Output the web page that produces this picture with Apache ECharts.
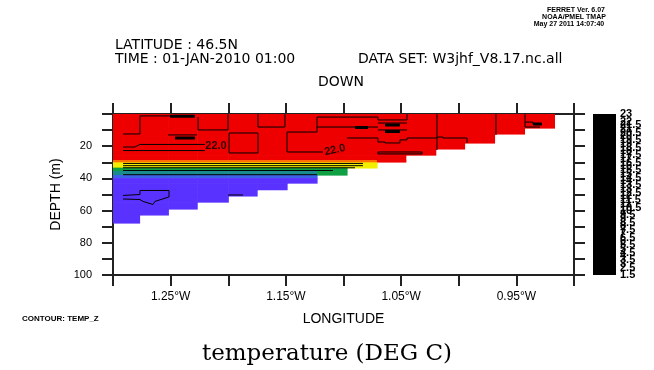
<!DOCTYPE html>
<html>
<head>
<meta charset="utf-8">
<script src="https://cdn.jsdelivr.net/npm/echarts@6/dist/echarts.min.js"></script>
<style>
html,body{margin:0;padding:0;background:#fff;}
#chart{width:654px;height:370px;}
</style>
</head>
<body>
<div id="chart"></div>
<script>
// ---- data ----
// cell edges (longitude, degrees east; negative = W)
const lonEdges = [-1.300, -1.277, -1.252, -1.227, -1.200, -1.175, -1.149, -1.123, -1.097, -1.071, -1.046, -1.020, -0.995, -0.969, -0.943, -0.917];
// layer edges (depth, m)
const depthEdges = [0, 8.7, 12.4, 18.0, 21.7, 25.5, 28.6, 29.8, 30.4, 32.9, 33.5, 35.4, 37.9, 39.8, 42.9, 47.0, 50.9, 54.7, 59.0, 62.7, 67.7];
// temperature (deg C) per layer (rows) and column; missing = below bottom
const tempRows = [
  [22.6, 22.7, 22.6, 22.5, 22.7, 22.6, 22.8, 22.7, 22.6, 22.8, 22.7, 22.6, 22.7, 22.8, 22.9],
  [22.5, 22.4, 22.5, 22.4, 22.6, 22.5, 22.6, 22.5, 22.5, 22.6, 22.5, 22.5, 22.6, 22.7],
  [22.3, 22.3, 22.4, 22.3, 22.4, 22.3, 22.3, 22.4, 22.3, 22.4, 22.3, 22.4, 22.5],
  [22.1, 22.1, 22.0, 22.1, 22.2, 22.1, 22.0, 22.1, 22.1, 22.2, 22.2, 22.3],
  [21.9, 21.9, 21.9, 22.0, 22.0, 21.9, 21.9, 22.0, 22.0, 22.1, 22.1],
  [21.8, 21.8, 21.8, 21.8, 21.9, 21.8, 21.8, 21.8, 21.9, 21.9],
  [20.9, 21.0, 20.9, 21.0, 21.0, 20.9, 21.0, 21.1, 21.2, 21.6],
  [20.1, 20.2, 20.1, 20.2, 20.2, 20.1, 20.2, 20.3, 20.4],
  [19.2, 19.3, 19.2, 19.3, 19.2, 19.3, 19.3, 19.4, 19.5],
  [18.3, 18.4, 18.3, 18.3, 18.4, 18.3, 18.4, 18.5, 18.9],
  [17.0, 17.1, 17.0, 17.1, 17.0, 17.1, 17.1, 17.2],
  [15.4, 15.5, 15.4, 15.5, 15.5, 15.4, 15.5, 16.4],
  [14.0, 14.1, 14.0, 14.0, 14.1, 14.0, 14.1],
  [12.8, 12.9, 12.8, 12.8, 12.9, 12.8, 12.9],
  [12.6, 12.7, 12.6, 12.7, 12.7, 12.6],
  [12.5, 12.4, 12.5, 12.6, 12.6],
  [12.4, 12.3, 12.5, 12.5],
  [12.5, 12.4, 12.5],
  [12.5, 12.5],
  [12.6]
];
// contour polylines [lon, depth]
const contourThin = [
  [[-1.2913,30.7],[-1.0831,30.7]],
  [[-1.2913,32.1],[-1.0831,32.1]],
  [[-1.2913,33.4],[-1.0900,33.4]],
  [[-1.2913,35.1],[-1.1091,35.1]],
  [[-1.2913,37.7],[-1.1230,37.7]],
  [[-1.2913,12.4],[-1.2766,12.4],[-1.2766,1.2],[-1.2505,1.2]],
  [[-1.2262,1.9],[-1.2262,9.9],[-1.2002,9.9],[-1.2002,0]],
  [[-1.1742,0],[-1.1742,8.1],[-1.1508,8.1],[-1.1508,0]],
  [[-1.1178,23.6],[-1.1490,23.6],[-1.1490,11.2],[-1.1230,11.2],[-1.1230,1.9],[-1.0701,1.9],[-1.0701,3.7],[-1.0449,3.7],[-1.0449,0]],
  [[-1.1993,11.8],[-1.1742,11.8],[-1.1742,24.2],[-1.1993,24.2],[-1.1993,11.8]],
  [[-1.2913,20.5],[-1.2810,20.5],[-1.2766,18.9],[-1.2202,18.9]],
  [[-1.2913,22.7],[-1.2202,22.7]],
  [[-1.2523,13.0],[-1.2271,13.0]],
  [[-1.1230,8.1],[-1.0701,8.1]],
  [[-1.0970,14.9],[-1.0701,14.9],[-1.0701,17.4],[-1.0640,17.4],[-1.0640,18.0],[-1.0510,18.0],[-1.0510,16.1],[-1.0449,16.1],[-1.0449,14.9],[-1.0189,14.9]],
  [[-1.0701,5.6],[-1.0449,5.6]],
  [[-1.0701,9.9],[-1.0449,9.9]],
  [[-1.0701,23.6],[-1.0319,23.6],[-1.0319,24.8],[-1.0701,24.8],[-1.0701,23.6]],
  [[-1.0189,0],[-1.0189,22.4]],
  [[-1.0189,14.3],[-1.0137,14.3],[-1.0137,14.9],[-0.9928,14.9],[-0.9928,18.0]],
  [[-0.9677,0],[-0.9677,13.0]],
  [[-0.9425,0],[-0.9425,8.1],[-0.9295,8.1]],
  [[-0.9425,5.0],[-0.9356,5.0],[-0.9356,6.2],[-0.9278,6.2]],
  [[-1.2913,50.6],[-1.2766,50.0],[-1.2766,47.5],[-1.2514,47.5],[-1.2514,51.5],[-1.2636,54.3],[-1.2653,56.2],[-1.2740,54.3],[-1.2766,53.1],[-1.2913,52.8]],
  [[-1.2002,50.3],[-1.1872,50.3]]
];
const contourThick = [
  [[-1.2505,1.4],[-1.2290,1.4]],
  [[-1.2462,14.9],[-1.2288,14.9]],
  [[-1.0900,8.4],[-1.0787,8.4]],
  [[-1.0640,6.8],[-1.0510,6.8]],
  [[-1.0640,10.9],[-1.0510,10.9]],
  [[-0.9356,6.2],[-0.9278,6.2]]
];
const contourLabels = [[-1.2106, 19.9, '22.0', 0], [-1.1074, 22.4, '22.0', 12]];
// colour key range
const keyMin = 1.5, keyMax = 23, keyStep = 0.5;

// ---- build ----
const cells = [];
tempRows.forEach((row, r) => {
  row.forEach((v, c) => {
    if (v != null) cells.push([lonEdges[c], lonEdges[c + 1], depthEdges[r], depthEdges[r + 1], v]);
  });
});

const chart = echarts.init(document.getElementById('chart'), null, {renderer: 'canvas'});
const FONT = '"Liberation Sans", Arial, sans-serif';
const TFONT = '"DejaVu Sans", sans-serif';
const axisLineStyle = {color: '#222', width: 2};
const tickStyle = {show: true, inside: false, length: 11, lineStyle: {color: '#222', width: 2}};

const option = {
  backgroundColor: '#fff',
  animation: false,
  grid: [
    {left: 113, top: 114, width: 461, height: 161},
    {left: 593, top: 114, width: 23, height: 161}
  ],
  visualMap: {
    type: 'piecewise', show: false, seriesIndex: 0, dimension: 4,
    pieces: [
      {lt: 13.3, color: '#5a32ff'},
      {gte: 13.3, lt: 14.8, color: '#3c62e8'},
      {gte: 14.8, lt: 16.2, color: '#1a8c90'},
      {gte: 16.2, lt: 17.8, color: '#10a044'},
      {gte: 17.8, lt: 18.8, color: '#a8d800'},
      {gte: 18.8, lt: 19.8, color: '#f2f000'},
      {gte: 19.8, lt: 20.5, color: '#ffc000'},
      {gte: 20.5, lt: 21.5, color: '#ff7000'},
      {gte: 21.5, color: '#ee0000'}
    ]
  },
  xAxis: [
    {
      type: 'value', gridIndex: 0, min: -1.30, max: -0.90, interval: 0.05, position: 'bottom',
      axisLine: {onZero: false, lineStyle: axisLineStyle}, axisTick: tickStyle, splitLine: {show: false},
      axisLabel: {
        margin: 16, fontSize: 12, color: '#000', fontFamily: FONT,
        formatter: v => { const k = Math.round(Math.abs(v) * 100); return (k % 10 === 5) ? (k / 100).toFixed(2) + '°W' : ''; }
      },
      name: 'LONGITUDE', nameLocation: 'middle', nameGap: 37,
      nameTextStyle: {fontSize: 14, color: '#000', fontFamily: FONT}
    },
    {
      type: 'value', gridIndex: 0, min: -1.30, max: -0.90, interval: 0.05, position: 'top',
      axisLine: {onZero: false, lineStyle: axisLineStyle}, axisTick: tickStyle,
      axisLabel: {show: false}, splitLine: {show: false}
    },
    {type: 'category', gridIndex: 1, data: ['key'], show: false}
  ],
  yAxis: [
    {
      type: 'value', gridIndex: 0, inverse: true, min: 0, max: 100, interval: 10, position: 'left',
      axisLine: {onZero: false, lineStyle: axisLineStyle}, axisTick: tickStyle, splitLine: {show: false},
      axisLabel: {margin: 21, fontSize: 11, color: '#000', fontFamily: FONT,
        formatter: v => (v > 0 && v % 20 === 0) ? String(v) : ''},
      name: 'DEPTH (m)', nameLocation: 'middle', nameGap: 50, nameRotate: 90,
      nameTextStyle: {fontSize: 14, color: '#000', fontFamily: FONT}
    },
    {
      type: 'value', gridIndex: 0, inverse: true, min: 0, max: 100, interval: 10, position: 'right',
      axisLine: {onZero: false, lineStyle: axisLineStyle}, axisTick: tickStyle,
      axisLabel: {show: false}, splitLine: {show: false}
    },
    {
      type: 'value', gridIndex: 1, min: keyMin, max: keyMax, interval: keyStep, position: 'right',
      axisLine: {show: false}, axisTick: {show: false}, splitLine: {show: false},
      axisLabel: {margin: 4, fontSize: 11, color: '#000', fontFamily: FONT, fontWeight: 'bold',
        hideOverlap: false, showMinLabel: true, showMaxLabel: true}
    }
  ],
  series: [
    {
      type: 'custom', xAxisIndex: 0, yAxisIndex: 0, data: cells,
      encode: {x: [0, 1], y: [2, 3]}, clip: true, z: 1,
      renderItem: (params, api) => {
        const p0 = api.coord([api.value(0), api.value(2)]);
        const p1 = api.coord([api.value(1), api.value(3)]);
        return {
          type: 'rect',
          shape: {x: Math.min(p0[0], p1[0]), y: Math.min(p0[1], p1[1]),
                  width: Math.abs(p1[0] - p0[0]) + 0.6, height: Math.abs(p1[1] - p0[1]) + 0.6},
          style: {fill: api.visual('color')}
        };
      }
    },
    {
      type: 'lines', coordinateSystem: 'cartesian2d', xAxisIndex: 0, yAxisIndex: 0, polyline: true, z: 3,
      silent: true,
      lineStyle: {color: '#000', width: 1, opacity: 1},
      data: contourThin.map(p => ({coords: p}))
    },
    {
      type: 'lines', coordinateSystem: 'cartesian2d', xAxisIndex: 0, yAxisIndex: 0, polyline: true, z: 3,
      silent: true,
      lineStyle: {color: '#000', width: 3, opacity: 1},
      data: contourThick.map(p => ({coords: p}))
    },
    {
      type: 'scatter', xAxisIndex: 0, yAxisIndex: 0, symbolSize: 0, z: 4, silent: true,
      data: contourLabels.map(d => ({
        value: [d[0], d[1]],
        label: {show: true, position: 'inside', formatter: d[2], rotate: d[3],
                fontSize: 11, fontWeight: 'bold', color: '#000', fontFamily: FONT}
      }))
    },
    {
      type: 'custom', xAxisIndex: 2, yAxisIndex: 2, data: [[0, keyMin, keyMax]], z: 2,
      encode: {x: 0, y: [1, 2]},
      renderItem: (params, api) => {
        const a = api.coord([api.value(0), api.value(1)]);
        const b = api.coord([api.value(0), api.value(2)]);
        const w = api.size([1, 0])[0];
        return {type: 'rect', shape: {x: a[0] - w / 2, y: b[1], width: w, height: a[1] - b[1]}, style: {fill: '#000'}};
      }
    }
  ],
  graphic: [
    {type: 'text', x: 576, y: 10, style: {text: 'FERRET Ver. 6.07', font: 'bold 7px ' + FONT, fill: '#000', textAlign: 'center', textVerticalAlign: 'middle'}},
    {type: 'text', x: 574, y: 17, style: {text: 'NOAA/PMEL TMAP', font: 'bold 7px ' + FONT, fill: '#000', textAlign: 'center', textVerticalAlign: 'middle'}},
    {type: 'text', x: 569, y: 24, style: {text: 'May 27 2011 14:07:40', font: 'bold 7px ' + FONT, fill: '#000', textAlign: 'center', textVerticalAlign: 'middle'}},
    {type: 'text', x: 115, y: 45, style: {text: 'LATITUDE : 46.5N', font: '14px ' + TFONT, fill: '#000', textAlign: 'left', textVerticalAlign: 'middle'}},
    {type: 'text', x: 115, y: 59, style: {text: 'TIME : 01-JAN-2010 01:00', font: '14px ' + TFONT, fill: '#000', textAlign: 'left', textVerticalAlign: 'middle'}},
    {type: 'text', x: 358, y: 59, style: {text: 'DATA SET: W3jhf_V8.17.nc.all', font: '14px ' + TFONT, fill: '#000', textAlign: 'left', textVerticalAlign: 'middle'}},
    {type: 'text', x: 341, y: 82, style: {text: 'DOWN', font: '14px ' + TFONT, fill: '#000', textAlign: 'center', textVerticalAlign: 'middle'}},
    {type: 'text', x: 22, y: 319, style: {text: 'CONTOUR: TEMP_Z', font: 'bold 8px ' + FONT, fill: '#000', textAlign: 'left', textVerticalAlign: 'middle'}},
    {type: 'text', x: 327, y: 354, style: {text: 'temperature (DEG C)', font: '23px "DejaVu Serif", serif', fill: '#000', textAlign: 'center', textVerticalAlign: 'middle'}}
  ]
};
chart.setOption(option);
</script>
</body>
</html>
